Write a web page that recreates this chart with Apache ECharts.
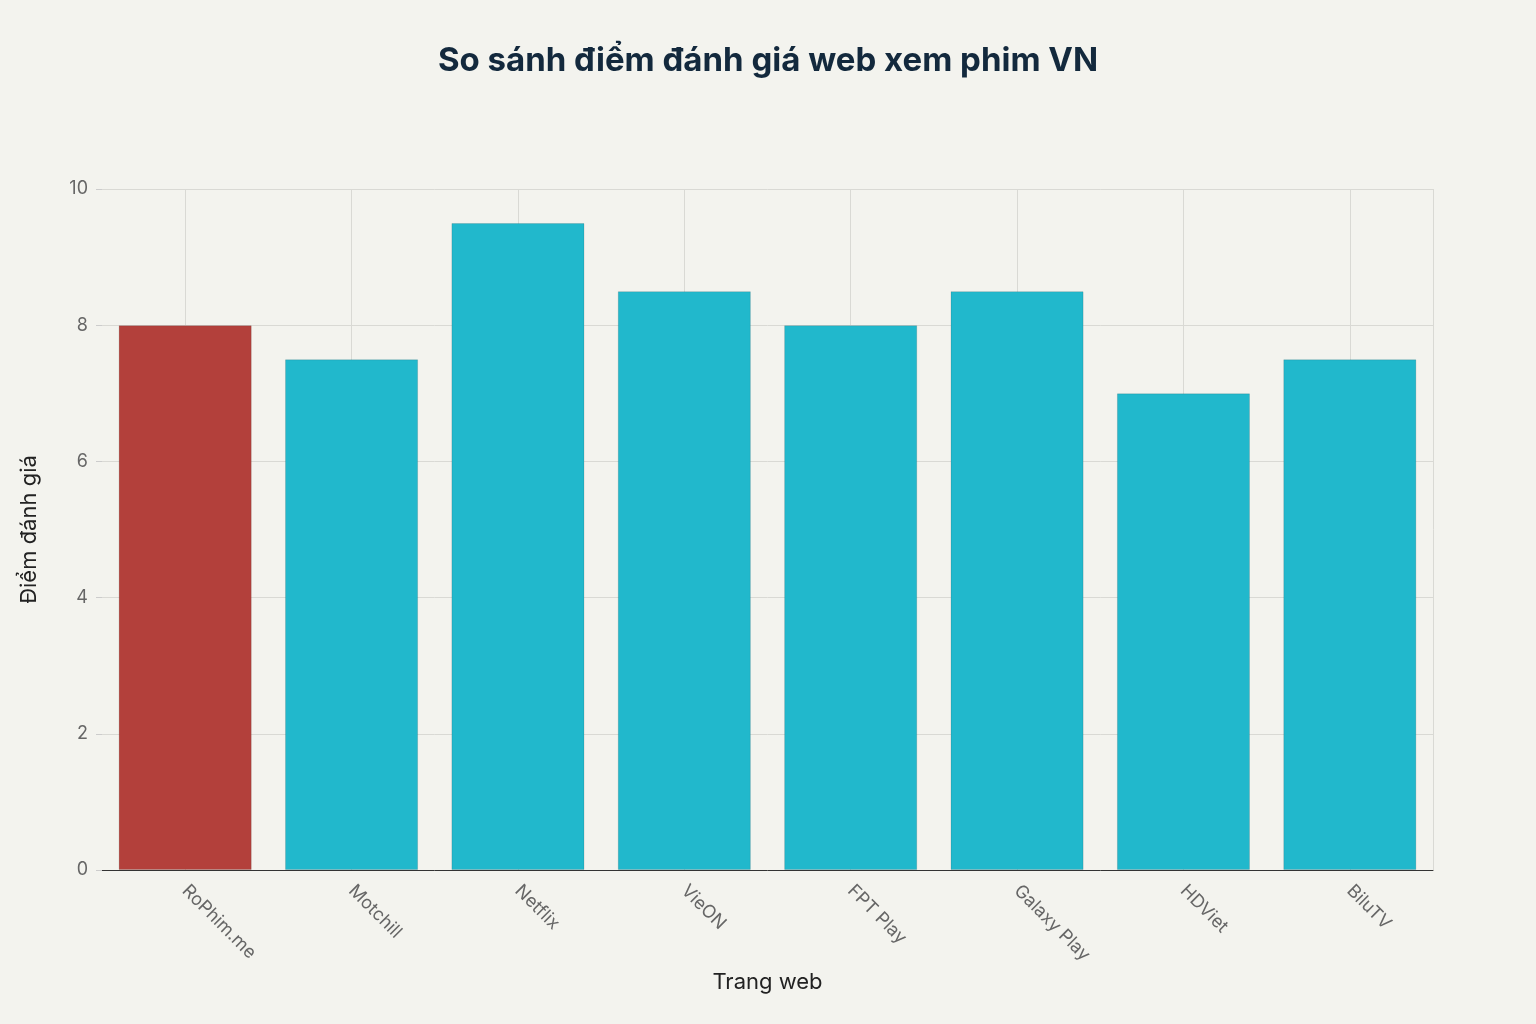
<!DOCTYPE html>
<html><head><meta charset="utf-8">
<script src="https://cdn.jsdelivr.net/npm/echarts@6/dist/echarts.min.js"></script>
<style>html,body{margin:0;background:#f3f3ee}#c{width:1536px;height:1024px}</style>
</head><body><div id="c"></div>
<script>
const categories = ['RoPhim.me','Motchill','Netflix','VieON','FPT Play','Galaxy Play','HDViet','BiluTV'];
const scores = [8, 7.5, 9.5, 8.5, 8, 8.5, 7, 7.5];
const colors = ['#b3403b','#21b8cc','#21b8cc','#21b8cc','#21b8cc','#21b8cc','#21b8cc','#21b8cc'];
const half = Array.from({length: categories.length*2}, () => '');
const chart = echarts.init(document.getElementById('c'));
chart.setOption({
  backgroundColor: '#f3f3ee',
  textStyle: {fontFamily: 'Inter, "Noto Sans", sans-serif'},
  title: {text: 'So sánh điểm đánh giá web xem phim VN', left: 'center', top: 40,
    textStyle: {fontSize: 33, fontWeight: 'bold', color: '#13293d'}},
  grid: {left: 102, right: 103, top: 189, bottom: 154},
  xAxis: [{
    type: 'category', data: categories, name: 'Trang web', nameLocation: 'middle', nameGap: 88,
    nameTextStyle: {fontSize: 22, color: '#222'},
    axisLine: {lineStyle: {color: '#333'}}, axisTick: {show: false},
    axisLabel: {rotate: -45, color: '#666', fontSize: 18, margin: 18, align: 'left'},
    splitLine: {show: false}
  }, {
    type: 'category', data: half, position: 'bottom', axisLine: {show: false}, axisTick: {show: false},
    axisLabel: {show: false},
    splitLine: {show: true, interval: (i) => i % 2 === 1, lineStyle: {color: '#d9d9d4'}}
  }],
  yAxis: {type: 'value', min: 0, max: 10, interval: 2, name: 'Điểm đánh giá', nameLocation: 'middle', nameGap: 62,
    nameTextStyle: {fontSize: 22, color: '#222'},
    axisLabel: {color: '#666', fontSize: 18, margin: 14},
    axisTick: {show: true, length: 6, lineStyle: {color: '#ccc'}},
    splitLine: {lineStyle: {color: '#d9d9d4'}}},
  series: [{type: 'bar', data: scores.map((v, i) => ({value: v, itemStyle: {color: colors[i]}})),
    barCategoryGap: '20%', z: 3,
    itemStyle: {borderColor: 'rgba(0,0,0,0.12)', borderWidth: 1}}]
});
</script></body></html>
